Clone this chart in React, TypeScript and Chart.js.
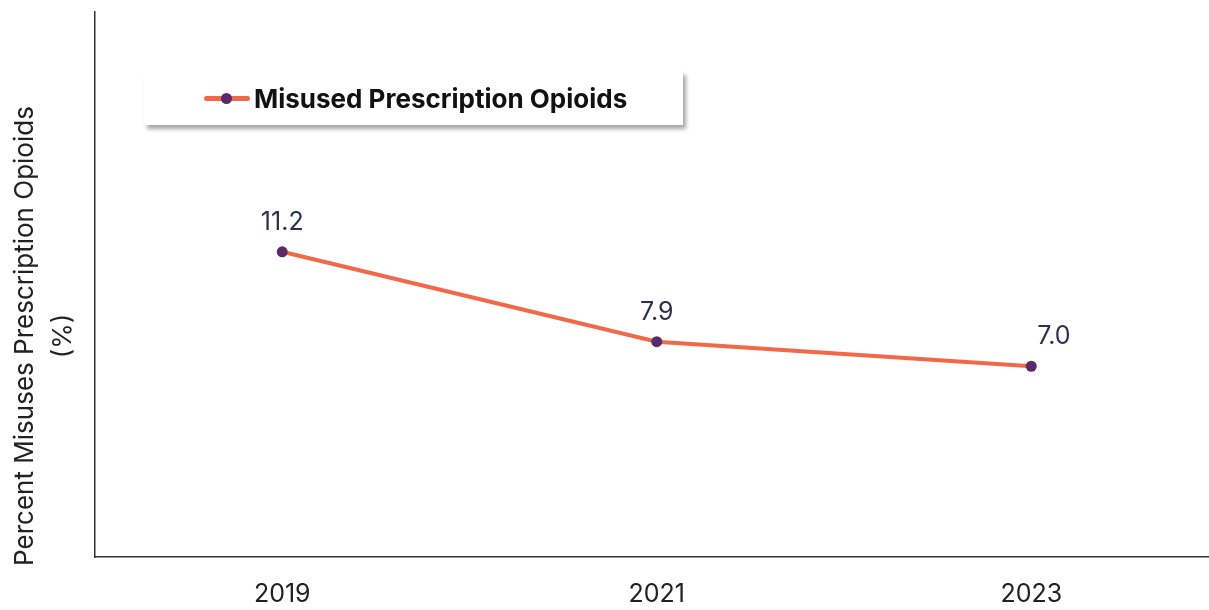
import React, { useEffect, useRef } from "react";
import { Chart, registerables } from "chart.js";

Chart.register(...registerables);

const categories = ["2019", "2021", "2023"];
const seriesName = "Misused Prescription Opioids";
const values = [11.2, 7.9, 7.0];
const yTitleLines = ["Percent Misuses Prescription Opioids", "(%)"];
const yMin = 0;
const yMax = 20;

const FONT = "Inter, 'DejaVu Sans', sans-serif";
const LINE_COLOR = "#f26849";
const POINT_COLOR = "#5b2a6c";
const CANVAS_W = 1240;
const CANVAS_H = 610;

export default function App() {
  const ref = useRef<HTMLCanvasElement>(null);

  useEffect(() => {
    const canvas = ref.current;
    if (!canvas) return;

    const labelPlugin = {
      id: "valueLabels",
      afterDatasetsDraw(chart: any) {
        const ctx = chart.ctx;
        const meta = chart.getDatasetMeta(0);
        ctx.save();
        ctx.font = `25px ${FONT}`;
        ctx.fillStyle = "#2c3152";
        ctx.textBaseline = "alphabetic";
        meta.data.forEach((pt: any, i: number) => {
          const last = i === meta.data.length - 1;
          ctx.textAlign = last ? "left" : "center";
          ctx.fillText(values[i].toFixed(1), pt.x + (last ? 6 : 0), pt.y - 22);
        });
        ctx.restore();
      },
    };

    const yTitlePlugin = {
      id: "yTitle",
      afterDraw(chart: any) {
        const ctx = chart.ctx;
        ctx.save();
        ctx.translate(0, 336);
        ctx.rotate(-Math.PI / 2);
        ctx.font = `26px ${FONT}`;
        ctx.fillStyle = "#222222";
        ctx.textAlign = "center";
        ctx.textBaseline = "alphabetic";
        ctx.fillText(yTitleLines[0], 0, 33);
        ctx.fillText(yTitleLines[1], 0, 71);
        ctx.restore();
      },
    };

    const chart = new Chart(canvas, {
      type: "line",
      data: {
        labels: categories,
        datasets: [
          {
            label: seriesName,
            data: values,
            borderColor: LINE_COLOR,
            backgroundColor: LINE_COLOR,
            borderWidth: 4,
            pointBackgroundColor: POINT_COLOR,
            pointBorderColor: POINT_COLOR,
            pointBorderWidth: 0,
            pointRadius: 5.5,
            tension: 0,
          },
        ],
      },
      options: {
        responsive: false,
        animation: false,
        layout: { padding: { top: 12, right: CANVAS_W - 1218.5, left: 0, bottom: 0 } },
        plugins: { legend: { display: false }, tooltip: { enabled: false } },
        scales: {
          x: {
            type: "category",
            offset: true,
            grid: { display: false, drawTicks: false },
            border: { display: true, color: "#333333", width: 1.5 },
            ticks: { color: "#222222", font: { family: FONT, size: 25 }, padding: 22 },
            afterFit: (s: any) => {
              s.height = 53;
            },
          },
          y: {
            min: yMin,
            max: yMax,
            grid: { display: false, drawTicks: false },
            border: { display: true, color: "#333333", width: 1.5 },
            ticks: { display: false },
            afterFit: (s: any) => {
              s.width = 95;
            },
          },
        },
      },
      plugins: [labelPlugin, yTitlePlugin],
    });

    return () => chart.destroy();
  }, []);

  return (
    <div
      style={{
        position: "fixed",
        left: 0,
        top: 0,
        width: 1209,
        height: 610,
        overflow: "hidden",
        background: "#ffffff",
      }}
    >
      <canvas ref={ref} width={CANVAS_W} height={CANVAS_H} style={{ display: "block" }} />
      <div
        style={{
          position: "absolute",
          left: 144,
          top: 71,
          width: 539,
          height: 54,
          background: "#ffffff",
          boxShadow: "3px 4px 4px rgba(0,0,0,0.35)",
          display: "flex",
          alignItems: "center",
        }}
      >
        <div
          style={{
            position: "relative",
            marginLeft: 60,
            width: 46,
            height: 5,
            borderRadius: 2.5,
            background: LINE_COLOR,
          }}
        >
          <div
            style={{
              position: "absolute",
              left: 17,
              top: -3,
              width: 11,
              height: 11,
              borderRadius: "50%",
              background: POINT_COLOR,
            }}
          />
        </div>
        <span
          style={{
            marginLeft: 4,
            fontFamily: FONT,
            fontWeight: 700,
            fontSize: 26,
            color: "#111111",
            whiteSpace: "nowrap",
          }}
        >
          {seriesName}
        </span>
      </div>
    </div>
  );
}
